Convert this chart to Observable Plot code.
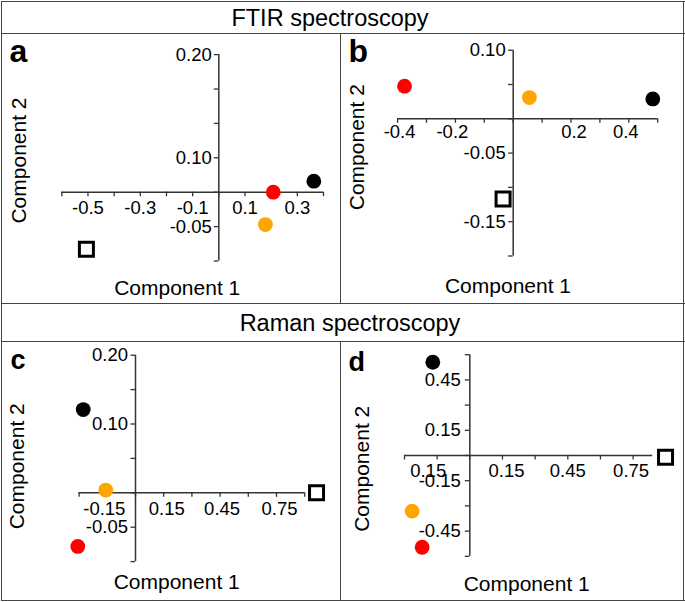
<!DOCTYPE html>
<html>
<head>
<meta charset="utf-8">
<script src="https://cdn.jsdelivr.net/npm/d3@7"></script>
<script src="https://cdn.jsdelivr.net/npm/@observablehq/plot@0.6"></script>
<style>
  body { margin: 0; background: #fff; }
  #fig { position: relative; width: 685px; height: 602px; background: #fff; font-family: "Liberation Sans", Arial, sans-serif; }
  .ln { position: absolute; background: #444; }
  .ttl { position: absolute; transform: translate(-50%, -50%); font-size: 23.5px; color: #000; white-space: nowrap; }
  .pn { position: absolute; }
</style>
</head>
<body>
<div id="fig"></div>
<script>
// ---- data (order: black circle, red circle, orange circle, open square) ----
const markerKinds = ["black", "red", "orange", "square"];
const markerColors = ["#000000", "#ff0000", "#ffa500", "#ffffff"];

// a: FTIR, panel a
const aComp1 = [0.363, 0.208, 0.178, -0.506];
const aComp2 = [0.016, 0.0, -0.047, -0.083];
const aXTicks = [-0.6, -0.5, -0.4, -0.3, -0.2, -0.1, 0, 0.1, 0.2, 0.3, 0.4];
const aYTicks = [-0.10, -0.05, 0, 0.05, 0.10, 0.15, 0.20];
const aXLabelAt = [-0.5, -0.3, -0.1, 0.1, 0.3];
const aXLabels = ["-0.5", "-0.3", "-0.1", "0.1", "0.3"];
const aYLabelAt = [0.20, 0.05, -0.05];
const aYLabels = ["0.20", "0.10", "-0.05"];

// b: FTIR, panel b
const bComp1 = [0.483, -0.376, 0.056, -0.035];
const bComp2 = [0.029, 0.0475, 0.031, -0.117];
const bXTicks = [-0.4, -0.3, -0.2, -0.1, 0, 0.1, 0.2, 0.3, 0.4, 0.5];
const bYTicks = [-0.20, -0.15, -0.10, -0.05, 0, 0.05, 0.10];
const bXLabelAt = [-0.4, -0.2, 0.2, 0.4];
const bXLabels = ["-0.4", "-0.2", "0.2", "0.4"];
const bYLabelAt = [0.10, -0.05, -0.15];
const bYLabels = ["0.10", "-0.05", "-0.15"];

// c: Raman, panel c
const cComp1 = [-0.278, -0.307, -0.158, 0.963];
const cComp2 = [0.121, -0.078, 0.004, 0.0];
const cXTicks = [-0.30, -0.15, 0, 0.15, 0.30, 0.45, 0.60, 0.75, 0.90];
const cYTicks = [-0.10, -0.05, 0, 0.05, 0.10, 0.15, 0.20];
const cXLabelAt = [-0.15, 0.15, 0.45, 0.75];
const cXLabels = ["-0.15", "0.15", "0.45", "0.75"];
const cYLabelAt = [0.20, 0.10, -0.05];
const cYLabels = ["0.20", "0.10", "-0.05"];

// d: Raman, panel d
const dComp1 = [-0.170, -0.219, -0.265, 0.899];
const dComp2 = [0.555, -0.546, -0.331, -0.01];
const dXTicks = [-0.30, -0.15, 0, 0.15, 0.30, 0.45, 0.60, 0.75];
const dYTicks = [-0.60, -0.45, -0.30, -0.15, 0, 0.15, 0.30, 0.45, 0.60];
const dXLabelAt = [-0.15, 0.15, 0.45, 0.75];
const dXLabels = ["0.15", "0.15", "0.45", "0.75"];
const dYLabelAt = [0.45, 0.15, -0.15, -0.45];
const dYLabels = ["0.45", "0.15", "-0.15", "-0.45"];

const sectionTitles = ["FTIR spectroscopy", "Raman spectroscopy"];
const panelLetters = ["a", "b", "c", "d"];
const xTitle = "Component 1";
const yTitle = "Component 2";

// ---- layout ----
const fig = document.getElementById("fig");
function line(l, t, w, h) {
  const d = document.createElement("div");
  d.className = "ln";
  Object.assign(d.style, {left: l + "px", top: t + "px", width: w + "px", height: h + "px"});
  fig.appendChild(d);
}
line(0.5, 0.5, 684, 1.5);    // top
line(0.5, 32.5, 684, 1.5);   // under FTIR title
line(0.5, 302.5, 684, 1.5);  // bottom of a/b
line(0.5, 340.5, 684, 1.5);  // under Raman title
line(0.5, 599.5, 684, 1.5);  // bottom
line(0.5, 0.5, 1.5, 600.5);  // left
line(682.5, 0.5, 1.5, 600.5);// right
line(339.5, 33, 1.5, 270);   // divider a|b
line(339.5, 341, 1.5, 259);  // divider c|d

function title(text, cx, cy) {
  const d = document.createElement("div");
  d.className = "ttl";
  d.textContent = text;
  d.style.left = cx + "px";
  d.style.top = cy + "px";
  fig.appendChild(d);
}
title(sectionTitles[0], 330, 17.5);
title(sectionTitles[1], 350, 322.5);

const FONT = "Liberation Sans, Arial, sans-serif";
const AXIS = "#333";

function panel(p) {
  const pts = markerKinds.map((k, i) => ({kind: k, c1: p.c1[i], c2: p.c2[i], color: markerColors[i]}));
  const circles = pts.filter(d => d.kind !== "square");
  const squares = pts.filter(d => d.kind === "square");
  const nudge = p.xNudge || p.xAt.map(() => 0);
  const xl = p.xAt.map((v, i) => ({v, t: p.xLab[i], n: nudge[i]}));
  const yl = p.yAt.map((v, i) => ({v, t: p.yLab[i]}));
  const xExt = d3.extent(p.xTicks.concat(p.xEnd ? [p.xEnd] : []));
  const yExt = d3.extent(p.yTicks);
  const xLabelMarks = Array.from(d3.group(xl, d => d.n), ([n, rows]) =>
    Plot.text(rows, {x: "v", y: 0, text: "t", dx: n, dy: p.xLabDy, fontSize: 18.5, fill: "#000", textAnchor: "middle", lineAnchor: "middle"}));
  const marks = [
    Plot.ruleY([0], {x1: xExt[0], x2: xExt[1], stroke: AXIS, strokeWidth: 1.5}),
    Plot.ruleX([0], {y1: yExt[0], y2: yExt[1], stroke: AXIS, strokeWidth: 1.5}),
    Plot.ruleX(p.xTicks, {x: d => d, y1: 0, y2: 0, insetBottom: -4.5, stroke: AXIS, strokeWidth: 1.3}),
    Plot.ruleY(p.yTicks, {y: d => d, x1: 0, x2: 0, insetLeft: -4.5, stroke: AXIS, strokeWidth: 1.3}),
    ...xLabelMarks,
    Plot.text(yl, {x: 0, y: "v", text: "t", dx: p.yLabDx, fontSize: 18.5, fill: "#000", textAnchor: "end", lineAnchor: "middle"}),
    Plot.dot(circles, {x: "c1", y: "c2", r: 7.4, fill: "color", stroke: "none"}),
    Plot.dot(squares, {x: "c1", y: "c2", r: 7.9, symbol: "square", fill: "#fff", stroke: "#000", strokeWidth: 3}),
    Plot.text([xTitle], {text: d => d, frameAnchor: "top-left", dx: p.xt[0], dy: p.xt[1], fontSize: 21, fill: "#000", textAnchor: "middle", lineAnchor: "middle"}),
    Plot.text([yTitle], {text: d => d, frameAnchor: "top-left", dx: p.yt[0], dy: p.yt[1], rotate: -90, fontSize: 21, fill: "#000", textAnchor: "middle", lineAnchor: "middle"}),
    Plot.text([p.letter], {text: d => d, frameAnchor: "top-left", dx: p.lt[0], dy: p.lt[1], fontSize: p.lsize, fontWeight: "bold", textAnchor: "start", lineAnchor: "middle", fill: "#000"})
  ];
  const svg = Plot.plot({
    width: p.w, height: p.h,
    margin: 0,
    x: {domain: p.xDom, range: p.xRange, axis: null},
    y: {domain: p.yDom, range: p.yRange, axis: null},
    style: {fontFamily: FONT, background: "transparent", overflow: "visible"},
    marks
  });
  const wrap = document.createElement("div");
  wrap.className = "pn";
  wrap.style.left = p.left + "px";
  wrap.style.top = p.top + "px";
  wrap.appendChild(svg);
  fig.appendChild(wrap);
}

// Pixel placement for each panel
panel({letter: panelLetters[0], left: 1, top: 33, w: 339, h: 270,
  c1: aComp1, c2: aComp2, xTicks: aXTicks, yTicks: aYTicks,
  xAt: aXLabelAt, xLab: aXLabels, yAt: aYLabelAt, yLab: aYLabels,
  xDom: [-0.6, 0.4], xRange: [60.3, 322.0], yDom: [-0.10, 0.20], yRange: [227.5, 21.1],
  xLabDy: 15.6, yLabDx: -7, xt: [175.7, 255], yt: [17.3, 127], lt: [8, 18.5], lsize: 32});

panel({letter: panelLetters[1], left: 341, top: 33, w: 342, h: 270,
  c1: bComp1, c2: bComp2, xTicks: bXTicks, yTicks: bYTicks,
  xAt: bXLabelAt, xLab: bXLabels, yAt: bYLabelAt, yLab: bYLabels, xNudge: [2, -3, 3, -3],
  xDom: [-0.4, 0.5], xRange: [56.1, 316.2], yDom: [-0.20, 0.10], yRange: [222.5, 16.7],
  xLabDy: 13.5, yLabDx: -7.5, xt: [166.5, 253], yt: [15.7, 113.7], lt: [7, 18.5], lsize: 32});

panel({letter: panelLetters[2], left: 1, top: 342, w: 339, h: 258,
  c1: cComp1, c2: cComp2, xTicks: cXTicks, yTicks: cYTicks,
  xAt: cXLabelAt, xLab: cXLabels, yAt: cYLabelAt, yLab: cYLabels, xNudge: [-3, 3, 2, 3],
  xDom: [-0.4, 0.9], xRange: [58.8, 303.2], yDom: [-0.10, 0.20], yRange: [219.1, 12.7],
  xLabDy: 16, yLabDx: -7.5, xt: [175.2, 239.7], yt: [15.7, 123.8], lt: [9, 17.7], lsize: 27});

panel({letter: panelLetters[3], left: 341, top: 342, w: 342, h: 258,
  c1: dComp1, c2: dComp2, xTicks: dXTicks, yTicks: dYTicks, xEnd: 0.84,
  xAt: dXLabelAt, xLab: dXLabels, yAt: dYLabelAt, yLab: dYLabels, xNudge: [-9, 4, 0, -2],
  xDom: [-0.3, 0.84], xRange: [63, 311.2], yDom: [-0.6, 0.6], yRange: [213.8, 12.2],
  xLabDy: 16, yLabDx: -9, xt: [185.2, 241.3], yt: [20.7, 126.3], lt: [7, 19.4], lsize: 27});
</script>
</body>
</html>
